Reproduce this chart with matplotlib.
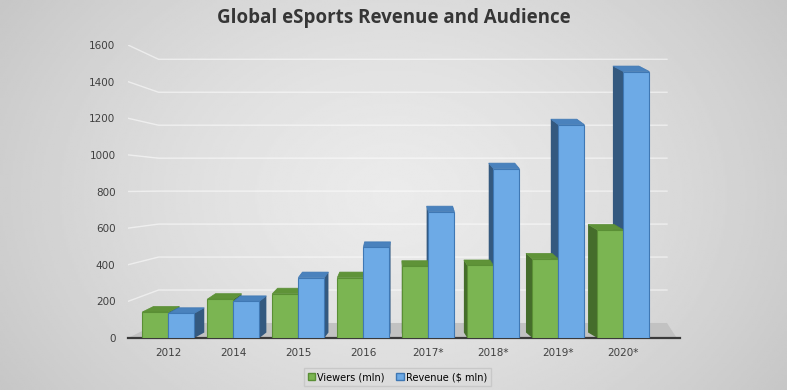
import numpy as np
import matplotlib
matplotlib.use("Agg")
import matplotlib.pyplot as plt
from matplotlib.patches import Polygon, Patch

# data
years = ["2012", "2014", "2015", "2016", "2017*", "2018*", "2019*", "2020*"]
viewers = [142, 212, 242, 330, 392, 396, 432, 590]      # mln
revenue = [135, 200, 330, 495, 690, 925, 1165, 1455]    # $ mln
y_ticks = [0, 200, 400, 600, 800, 1000, 1200, 1400, 1600]

W, H = 787, 390
fig = plt.figure(figsize=(W / 100, H / 100), dpi=100)

# grey radial background
bg = fig.add_axes([0, 0, 1, 1], zorder=-10)
gx, gy = np.meshgrid(np.linspace(0, 1, 400), np.linspace(0, 1, 200))
r = np.sqrt(((gx - 0.5) / 0.62) ** 2 + ((gy - 0.5) / 0.95) ** 2)
bg.imshow(0.92 - 0.15 * np.clip(r, 0, 1) ** 1.4, cmap="gray", vmin=0, vmax=1,
          extent=[0, 1, 0, 1], aspect="auto", origin="lower")
bg.axis("off")

ax = fig.add_axes([128 / W, (H - 338) / H, (680 - 128) / W, (338 - 45) / H])
ax.patch.set_alpha(0)
xmin, xmax = -0.62, 7.87
ax.set_xlim(xmin, xmax)
ax.set_ylim(0, 1600)

# back wall gridlines (perspective: slanted on the left wall)
for v in y_ticks[1:]:
    vb = 82 + 0.9 * v
    ax.plot([xmin, xmin + 0.47, xmax - 0.2], [v, vb, vb], color="white",
            lw=1.0, alpha=0.55, zorder=0)

# floor
ax.add_patch(Polygon([(xmin, 0), (xmax - 0.05, 0), (xmax - 0.2, 82), (xmin + 0.47, 82)],
                     closed=True, facecolor="#c2c2c2", edgecolor="none", zorder=0.5))

vp = 3.6
depth = 30
w = 0.4


def bar3d(xc, v, front, top, side, edge):
    x0, x1 = xc - w / 2, xc + w / 2
    ddx = -0.045 * (xc - vp)
    ax.bar(xc, v, width=w, color=front, edgecolor=edge, linewidth=0.8, zorder=3)
    ax.add_patch(Polygon([(x0, v), (x1, v), (x1 + ddx, v + depth), (x0 + ddx, v + depth)],
                         facecolor=top, edgecolor=edge, lw=0.5, zorder=2))
    sx = x1 if ddx > 0 else x0
    ax.add_patch(Polygon([(sx, 0), (sx, v), (sx + ddx, v + depth), (sx + ddx, depth)],
                         facecolor=side, edgecolor="none", zorder=1))


x = np.arange(len(years))
for i in x:
    bar3d(i - w / 2, viewers[i], "#7bb552", "#5f9338", "#456d2b", "#5a8f35")
    bar3d(i + w / 2, revenue[i], "#6daae6", "#4a82bd", "#34597f", "#3f78b4")

for s in ["top", "right", "left"]:
    ax.spines[s].set_visible(False)
ax.spines["bottom"].set_color("#3a3a3a")
ax.spines["bottom"].set_linewidth(1.6)
ax.set_xticks(x)
ax.set_xticklabels(years)
ax.set_yticks(y_ticks)
ax.tick_params(length=0, labelsize=7.5, labelcolor="#404040")
ax.tick_params(axis="x", pad=7)
ax.tick_params(axis="y", pad=9)

fig.text(0.5, 0.955, "Global eSports Revenue and Audience", ha="center", va="center",
         fontsize=13.5, fontweight="bold", color="#363636", family="Open Sans")

handles = [Patch(facecolor="#7bb552", edgecolor="#5a8f35", label="Viewers (mln)"),
           Patch(facecolor="#6daae6", edgecolor="#3f78b4", label="Revenue ($ mln)")]
fig.legend(handles=handles, loc="center", bbox_to_anchor=(0.505, 0.033), ncol=2,
           fontsize=7, frameon=True, fancybox=False, edgecolor="#c4c4c4",
           facecolor="#dcdcdc", handlelength=0.8, handleheight=0.8,
           handletextpad=0.2, columnspacing=1.2, borderpad=0.4)

fig.savefig("out.png", dpi=100)
